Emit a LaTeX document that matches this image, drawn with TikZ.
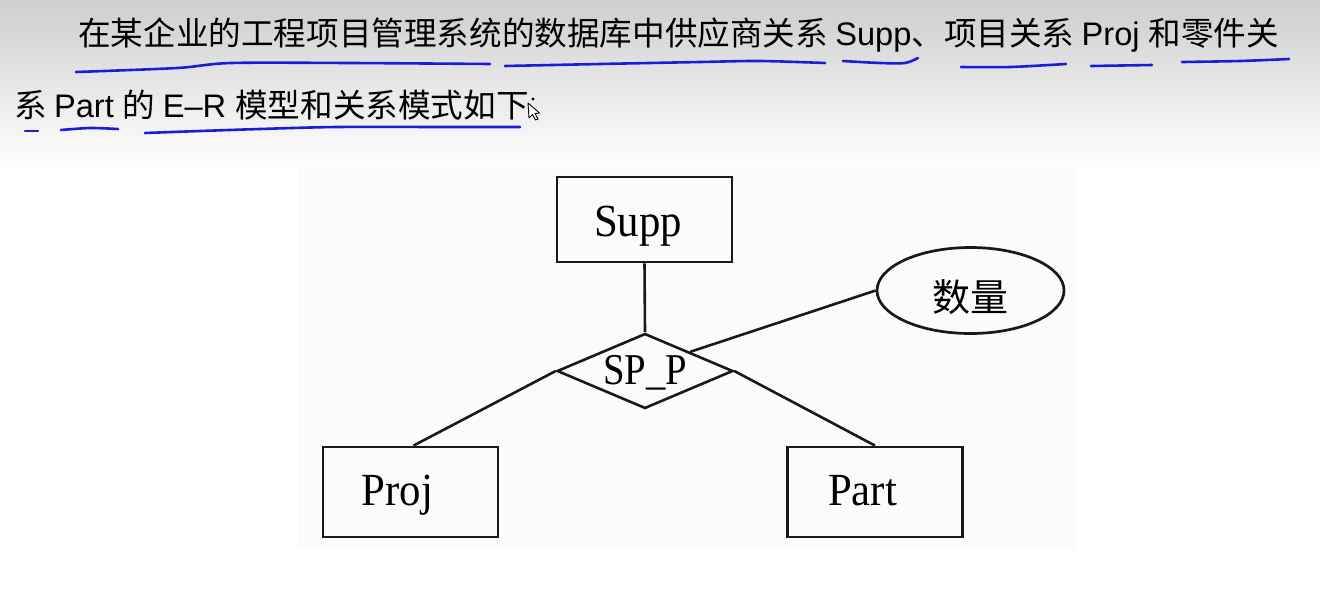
\documentclass[tikz,border=0pt]{standalone}
\usepackage{fontspec}
\setmainfont{Liberation Serif}
\newfontfamily\narrowserif[FakeStretch=0.93]{Liberation Serif}
\newfontfamily\narrowerserif[FakeStretch=0.88]{Liberation Serif}
\newfontfamily\cjk{Noto Sans CJK SC}
\newfontfamily\arial{Liberation Sans}
\usetikzlibrary{shapes.geometric,calc}
\definecolor{pen}{RGB}{28,28,215}
\definecolor{topgray}{RGB}{206,206,206}
\definecolor{panel}{RGB}{251,251,251}
\definecolor{ink}{RGB}{25,25,25}
\begin{document}
\begin{tikzpicture}[x=1pt,y=-1pt,
  entity/.style={draw=ink,line width=2.8pt,minimum width=175pt,inner sep=0pt,text depth=0pt,font=\narrowserif\fontsize{46}{46}\selectfont},
  rel/.style={diamond,draw=ink,line width=2.6pt,minimum width=176pt,minimum height=75pt,shape aspect=2.35,inner sep=0pt,text height=26pt,text depth=0pt,font=\narrowerserif\fontsize{44}{44}\selectfont},
  attr/.style={ellipse,draw=ink,line width=2.7pt,minimum width=187pt,minimum height=86pt,inner sep=0pt,text height=42pt,text depth=0pt,font=\cjk\fontsize{38}{38}\selectfont},
  link/.style={draw=ink,line width=2.6pt},
  hand/.style={draw=pen,line width=2.6pt,line cap=round,line join=round},
  head/.style={anchor=base west,inner sep=0pt,font=\fontsize{32.6}{32.6}\selectfont}
]
\useasboundingbox (0,0) rectangle (1320,590);
\fill[white] (0,0) rectangle (1320,590);
\shade[top color=topgray,bottom color=white] (0,0) rectangle (1320,168);
\fill[panel] (298,168) rectangle (1075,549);

% header text
\node[head] (l1) at (78,45) {\cjk 在某企业的工程项目管理系统的数据库中供应商关系 \arial Supp\cjk 、项目关系 \arial Proj \cjk 和零件关};
\node[head] (l2) at (14,117) {\cjk 系 \arial Part \cjk 的 \arial E–R \cjk 模型和关系模式如下};

% hand-drawn underlines
\draw[hand] plot[smooth] coordinates {(76,72) (177,68) (231,63) (350,63) (490,64)};
\draw[hand] plot[smooth] coordinates {(505,66) (600,64) (700,62) (760,61) (825,63)};
\draw[hand] plot[smooth] coordinates {(843,61) (880,63) (905,63) (918,58)};
\draw[hand] plot[smooth] coordinates {(961,67) (1010,67) (1066,64)};
\draw[hand] plot[smooth] coordinates {(1091,66) (1152,65)};
\draw[hand] plot[smooth] coordinates {(1182,62) (1240,61) (1289,59)};
\draw[hand] plot[smooth] coordinates {(25,131) (38,131)};
\draw[hand] plot[smooth] coordinates {(61,130) (90,128) (118,129)};
\draw[hand] plot[smooth] coordinates {(145,133) (200,131) (260,129) (337,127) (450,127) (520,127)};

% mouse pointer
\fill (533,99) circle (1.6);
\draw[fill=white,line width=0.9pt,line join=round] (528,103) -- (529,118) -- (532.5,114.5) -- (535.5,120) -- (538,119) -- (535,113.5) -- (539.5,113) -- cycle;

% E-R diagram
\node[entity,minimum height=85pt,text height=33pt] (supp) at (644.5,219.5) {\hspace*{-13pt}Supp};
\node[entity,minimum height=90pt,text height=26pt] (proj) at (410.5,492) {\hspace*{-26pt}Proj};
\node[entity,minimum height=90pt,text height=26pt] (part) at (875,492) {\hspace*{-25pt}Part};
\node[rel] (spp) at (645,371) {SP\_P};
\node[attr] (qty) at (970.5,290.5) {数量};

\draw[link] (supp.south) -- (spp.north);
\draw[link] (spp.west) -- ($(proj.north)+(3,0)$);
\draw[link] (spp.east) -- (part.north);
\draw[link] (qty.west) -- (spp.23);
\end{tikzpicture}
\end{document}
